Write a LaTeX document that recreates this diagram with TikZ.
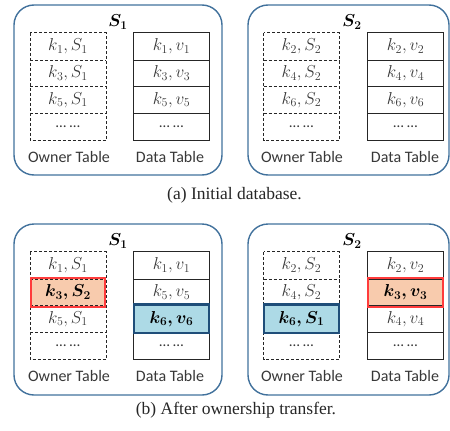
\documentclass[tikz,border=0pt]{standalone}
\usepackage{fontspec}
\usepackage{amsmath}
\setmainfont{Liberation Serif}
\newfontfamily\calibri{Carlito}
\definecolor{boxblue}{HTML}{41719C}
\definecolor{txtgray}{HTML}{383838}
\definecolor{orfill}{HTML}{F8CBAD}
\definecolor{redbord}{HTML}{FF3B3B}
\definecolor{blfill}{HTML}{ADDAE6}
\definecolor{blbord}{HTML}{1F4E79}
\tikzset{
  server/.style={draw=boxblue, line width=1.4pt, rounded corners=20pt},
  cell/.style={minimum width=75.5pt, minimum height=26.75pt, inner sep=0pt, text=txtgray, font=\fontsize{17}{20}\selectfont},
  plain/.style={},
  hlr/.style={fill=orfill, text=black},
  hlb/.style={fill=blfill, text=black},
  gridline/.style={line width=0.9pt, draw=black!85},
  dashedgrid/.style={gridline, dash pattern=on 3pt off 2pt},
  solidgrid/.style={gridline},
  redframe/.style={draw=redbord, line width=2pt},
  blueframe/.style={draw=blbord, line width=2.2pt},
  slabel/.style={font=\fontsize{18}{21}\selectfont},
  tlabel/.style={font=\calibri\fontsize{16}{19}\selectfont, text=txtgray},
  caption/.style={font=\fontsize{17.5}{21}\selectfont, text=black!85}
}
\newcommand{\mktable}[5]{%
  \foreach \s/\t [count=\i] in {#5}{%
    \node[cell,\s] (#1\i) at (#2,{#3+13.375+(\i-1)*26.75}) {\t};
  }
  \draw[#4] (#11.north west) rectangle (#14.south east);
  \foreach \i in {1,2,3} \draw[#4] (#1\i.south west) -- (#1\i.south east);
}
\newcommand{\dd}{{\calibri\fontsize{15}{18}\selectfont … …}}
\begin{document}
\begin{tikzpicture}[x=1pt,y=-1pt]
\useasboundingbox (0,0) rectangle (450,431);
% ---------- (a) ----------
\draw[server] (14,5) rectangle (222,175);
\draw[server] (248,5) rectangle (449,175);
\node[slabel] (aS1) at (118,22) {$\boldsymbol{S_1}$};
\node[slabel] (aS2) at (352,22) {$\boldsymbol{S_2}$};
\mktable{aOa}{68}{33}{dashedgrid}{plain/{$k_1,S_1$},plain/{$k_3,S_1$},plain/{$k_5,S_1$},plain/\dd}
\mktable{aDa}{171.5}{33}{solidgrid}{plain/{$k_1,v_1$},plain/{$k_3,v_3$},plain/{$k_5,v_5$},plain/\dd}
\mktable{aOb}{301.5}{33}{dashedgrid}{plain/{$k_2,S_2$},plain/{$k_4,S_2$},plain/{$k_6,S_2$},plain/\dd}
\mktable{aDb}{405.5}{33}{solidgrid}{plain/{$k_2,v_2$},plain/{$k_4,v_4$},plain/{$k_6,v_6$},plain/\dd}
\node[tlabel] (aOl) at (69,157) {Owner Table};
\node[tlabel] (aDl) at (170,157) {Data Table};
\node[tlabel] (aOr) at (302,157) {Owner Table};
\node[tlabel] (aDr) at (405,157) {Data Table};
\node[caption] (capa) at (234.5,195) {(a) Initial database.};
% ---------- (b) ----------
\draw[server] (14,224) rectangle (222,395);
\draw[server] (248,224) rectangle (449,395);
\node[slabel] (bS1) at (118,241) {$\boldsymbol{S_1}$};
\node[slabel] (bS2) at (352,241) {$\boldsymbol{S_2}$};
\mktable{bOa}{68}{252}{dashedgrid}{plain/{$k_1,S_1$},hlr/{$\boldsymbol{k_3,S_2}$},plain/{$k_5,S_1$},plain/\dd}
\mktable{bDa}{171.5}{252}{solidgrid}{plain/{$k_1,v_1$},plain/{$k_5,v_5$},hlb/{$\boldsymbol{k_6,v_6}$},plain/\dd}
\mktable{bOb}{301.5}{252}{dashedgrid}{plain/{$k_2,S_2$},plain/{$k_4,S_2$},hlb/{$\boldsymbol{k_6,S_1}$},plain/\dd}
\mktable{bDb}{405.5}{252}{solidgrid}{plain/{$k_2,v_2$},hlr/{$\boldsymbol{k_3,v_3}$},plain/{$k_4,v_4$},plain/\dd}
\draw[redframe] ([shift={(0.8,-0.8)}]bOa2.north west) rectangle ([shift={(-0.8,0.8)}]bOa2.south east);
\draw[blueframe] ([shift={(0.8,-0.8)}]bDa3.north west) rectangle ([shift={(-0.8,0.8)}]bDa3.south east);
\draw[blueframe] ([shift={(0.8,-0.8)}]bOb3.north west) rectangle ([shift={(-0.8,0.8)}]bOb3.south east);
\draw[redframe] ([shift={(0.8,-0.8)}]bDb2.north west) rectangle ([shift={(-0.8,0.8)}]bDb2.south east);
\node[tlabel] (bOl) at (69,376) {Owner Table};
\node[tlabel] (bDl) at (170,376) {Data Table};
\node[tlabel] (bOr) at (302,376) {Owner Table};
\node[tlabel] (bDr) at (405,376) {Data Table};
\node[caption] (capb) at (236,410) {(b) After ownership transfer.};
\end{tikzpicture}
\end{document}
